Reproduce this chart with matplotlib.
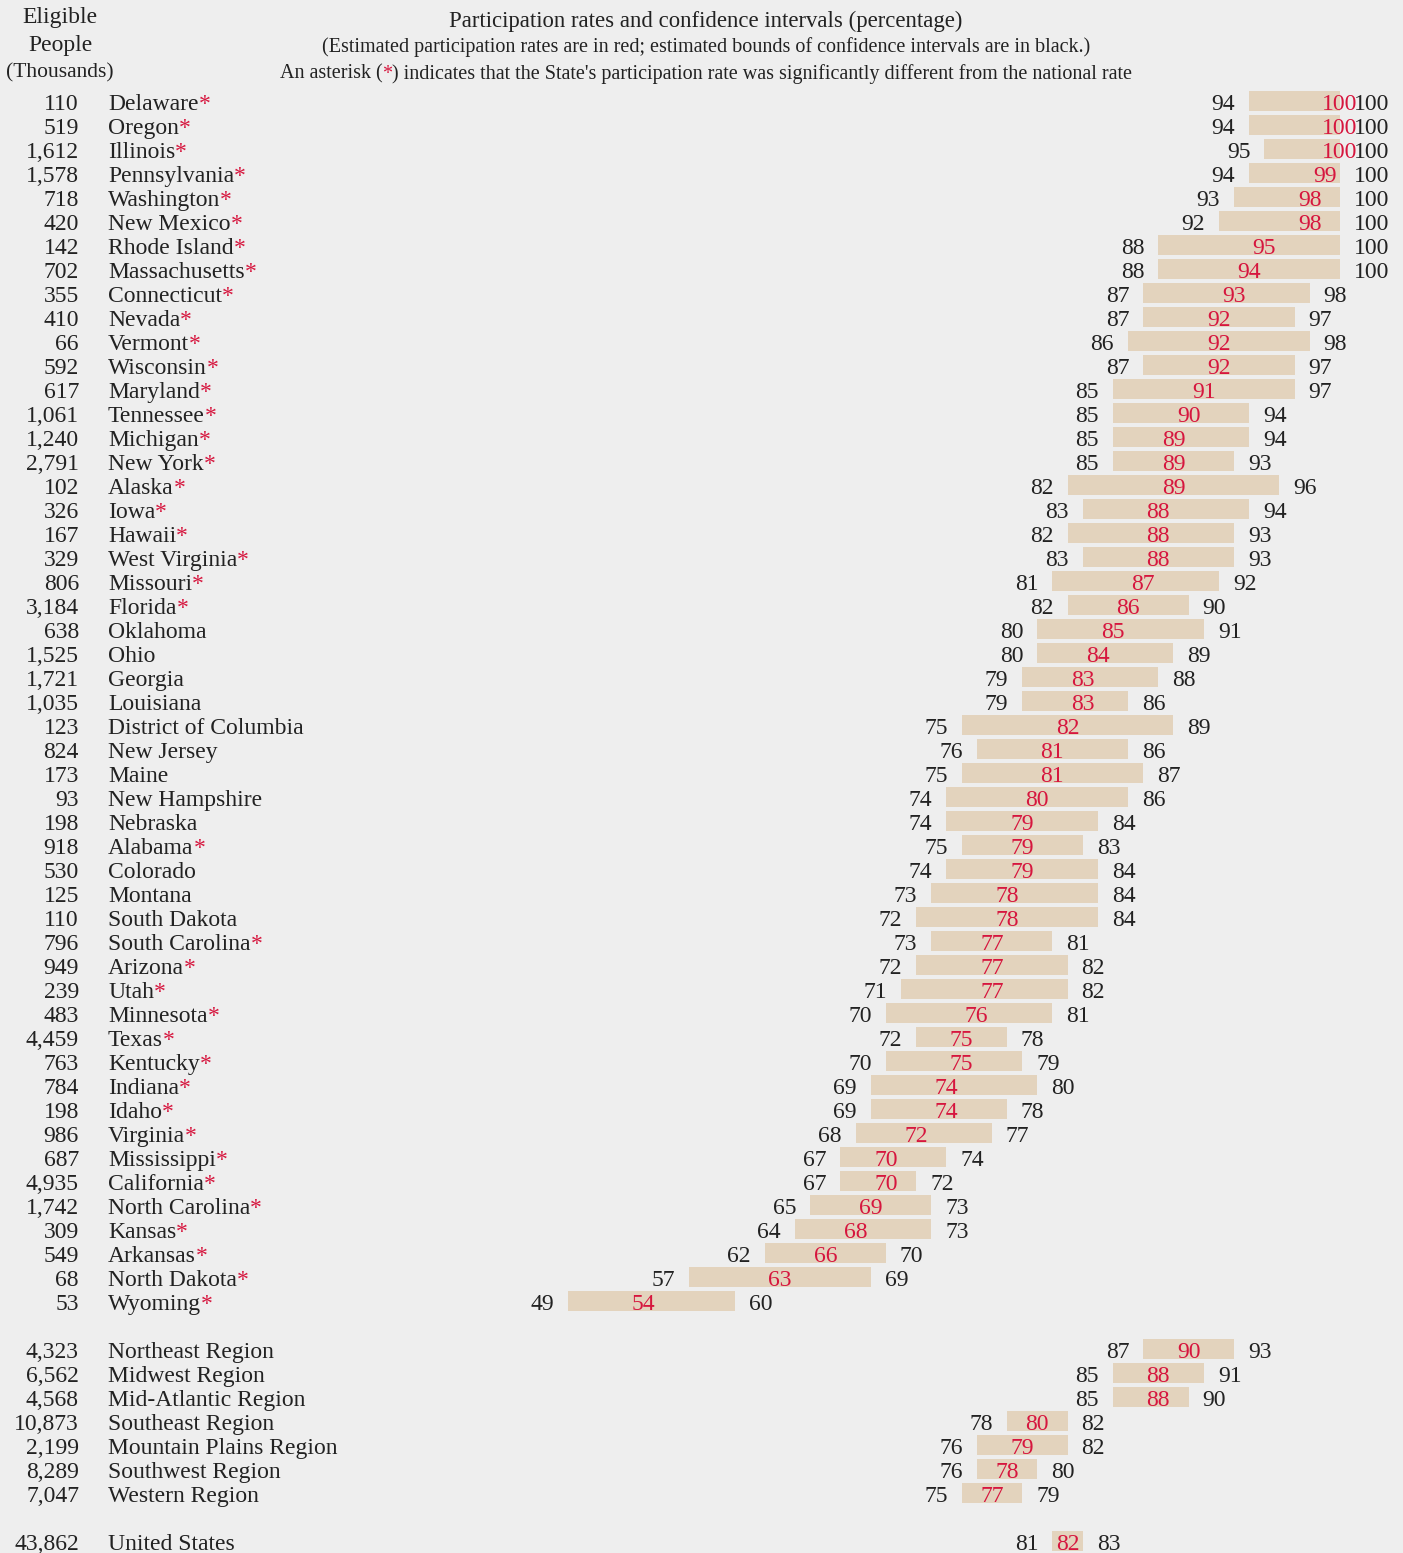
import matplotlib
matplotlib.use("Agg")
import matplotlib.pyplot as plt
from matplotlib.transforms import blended_transform_factory

# ---------------- data ----------------
states = ["Delaware", "Oregon", "Illinois", "Pennsylvania", "Washington", "New Mexico",
          "Rhode Island", "Massachusetts", "Connecticut", "Nevada", "Vermont", "Wisconsin",
          "Maryland", "Tennessee", "Michigan", "New York", "Alaska", "Iowa", "Hawaii",
          "West Virginia", "Missouri", "Florida", "Oklahoma", "Ohio", "Georgia", "Louisiana",
          "District of Columbia", "New Jersey", "Maine", "New Hampshire", "Nebraska",
          "Alabama", "Colorado", "Montana", "South Dakota", "South Carolina", "Arizona",
          "Utah", "Minnesota", "Texas", "Kentucky", "Indiana", "Idaho", "Virginia",
          "Mississippi", "California", "North Carolina", "Kansas", "Arkansas",
          "North Dakota", "Wyoming"]
state_eligible = [110, 519, 1612, 1578, 718, 420, 142, 702, 355, 410, 66, 592, 617, 1061,
                  1240, 2791, 102, 326, 167, 329, 806, 3184, 638, 1525, 1721, 1035, 123,
                  824, 173, 93, 198, 918, 530, 125, 110, 796, 949, 239, 483, 4459, 763,
                  784, 198, 986, 687, 4935, 1742, 309, 549, 68, 53]
state_lower = [94, 94, 95, 94, 93, 92, 88, 88, 87, 87, 86, 87, 85, 85, 85, 85, 82, 83, 82,
               83, 81, 82, 80, 80, 79, 79, 75, 76, 75, 74, 74, 75, 74, 73, 72, 73, 72, 71,
               70, 72, 70, 69, 69, 68, 67, 67, 65, 64, 62, 57, 49]
state_rate = [100, 100, 100, 99, 98, 98, 95, 94, 93, 92, 92, 92, 91, 90, 89, 89, 89, 88, 88,
              88, 87, 86, 85, 84, 83, 83, 82, 81, 81, 80, 79, 79, 79, 78, 78, 77, 77, 77,
              76, 75, 75, 74, 74, 72, 70, 70, 69, 68, 66, 63, 54]
state_upper = [100, 100, 100, 100, 100, 100, 100, 100, 98, 97, 98, 97, 97, 94, 94, 93, 96,
               94, 93, 93, 92, 90, 91, 89, 88, 86, 89, 86, 87, 86, 84, 83, 84, 84, 84, 81,
               82, 82, 81, 78, 79, 80, 78, 77, 74, 72, 73, 73, 70, 69, 60]
state_significant = [True] * 22 + [False] * 9 + [True] + [False] * 3 + [True] * 16

regions = ["Northeast Region", "Midwest Region", "Mid-Atlantic Region", "Southeast Region",
           "Mountain Plains Region", "Southwest Region", "Western Region"]
region_eligible = [4323, 6562, 4568, 10873, 2199, 8289, 7047]
region_lower = [87, 85, 85, 78, 76, 76, 75]
region_rate = [90, 88, 88, 80, 79, 78, 77]
region_upper = [93, 91, 90, 82, 82, 80, 79]

nation = ["United States"]
nation_eligible = [43862]
nation_lower = [81]
nation_rate = [82]
nation_upper = [83]

# ---------------- style ----------------
BG = "#eeeeee"
BAR = "#e3d3bd"
RED = "#d6163e"
INK = "#222222"
FONT = ["Liberation Serif", "DejaVu Serif"]
plt.rcParams["font.family"] = FONT

W, H, DPI = 1403, 1553, 100
fig = plt.figure(figsize=(W / DPI, H / DPI), dpi=DPI, facecolor=BG)
ax = fig.add_axes([0, 0, 1, 1], facecolor=BG)
ax.set_axis_off()

# pixel mapping: x_px = -173.7 + 15.137 * value ; y_px = 101 + 24 * row
ax.set_xlim(173.7 / 15.137, (W + 173.7) / 15.137)
ax.set_ylim((H - 101) / 24.0, -101 / 24.0)

xfrac = blended_transform_factory(ax.transAxes, ax.transData)
FS = 17
PT = 72 / DPI          # points per pixel
DY = -9 * PT           # baseline offset below row centre

rows = []
for i in range(len(states)):
    rows.append((i, states[i], state_eligible[i], state_lower[i], state_rate[i],
                 state_upper[i], state_significant[i]))
base = len(states) + 1
for j in range(len(regions)):
    rows.append((base + j, regions[j], region_eligible[j], region_lower[j], region_rate[j],
                 region_upper[j], False))
base2 = base + len(regions) + 1
rows.append((base2, nation[0], nation_eligible[0], nation_lower[0], nation_rate[0],
             nation_upper[0], False))


def lab(s, xy, coords, dx, ha, color=INK):
    return ax.annotate(s, xy=xy, xycoords=coords, xytext=(dx, DY),
                       textcoords="offset points", ha=ha, va="baseline",
                       fontsize=FS, color=color)


GAP = 14 * PT
for y, name, elig, lo, est, hi, sig in rows:
    ax.barh(y, hi - lo, left=lo, height=20 / 24, color=BAR, linewidth=0)
    lab(f"{elig:,}", (79 / W, y), xfrac, 0, "right")
    t = lab(name, (108 / W, y), xfrac, 0, "left")
    if sig:
        ax.annotate("*", xy=(1, 0), xycoords=t, ha="left", va="bottom",
                    fontsize=FS, color=RED)
    lab(f"{lo}", (lo, y), "data", -GAP, "right")
    lab(f"{hi}", (hi, y), "data", GAP, "left")
    lab(f"{est}", (est, y), "data", 0, "center", RED)

# ---------------- headers ----------------
def fy(px):
    return 1 - px / H

fig.text(60 / W, fy(17), "Eligible", ha="center", va="center", fontsize=FS, color=INK)
fig.text(60 / W, fy(45), "People", ha="center", va="center", fontsize=FS, color=INK)
fig.text(60 / W, fy(73), "(Thousands)", ha="center", va="center", fontsize=15.5, color=INK)

fig.text(706 / W, fy(21), "Participation rates and confidence intervals (percentage)",
         ha="center", va="center", fontsize=16.4, color=INK)
fig.text(706 / W, fy(47),
         "(Estimated participation rates are in red; estimated bounds of confidence intervals are in black.)",
         ha="center", va="center", fontsize=14.5, color=INK)
SUBFS = 14.5
t1 = fig.text(0, fy(74), "An asterisk (", ha="left", va="center", fontsize=SUBFS, color=INK)
t2 = fig.text(0, 0, "*", fontsize=SUBFS, color=RED, ha="left", va="bottom")
t3 = fig.text(0, 0, ") indicates that the State's participation rate was significantly different from the national rate",
              fontsize=SUBFS, color=INK, ha="left", va="bottom")
fig.canvas.draw()
r = fig.canvas.get_renderer()
w_total = (t1.get_window_extent(r).width + t2.get_window_extent(r).width
           + t3.get_window_extent(r).width)
x0 = 706 - w_total / 2
t1.set_position((x0 / W, fy(74)))
fig.canvas.draw()
bb1 = t1.get_window_extent(r)
t2.set_position((bb1.x1 / W, bb1.y0 / H))
fig.canvas.draw()
bb2 = t2.get_window_extent(r)
t3.set_position((bb2.x1 / W, bb1.y0 / H))

fig.savefig("out.png", dpi=DPI, facecolor=BG)
